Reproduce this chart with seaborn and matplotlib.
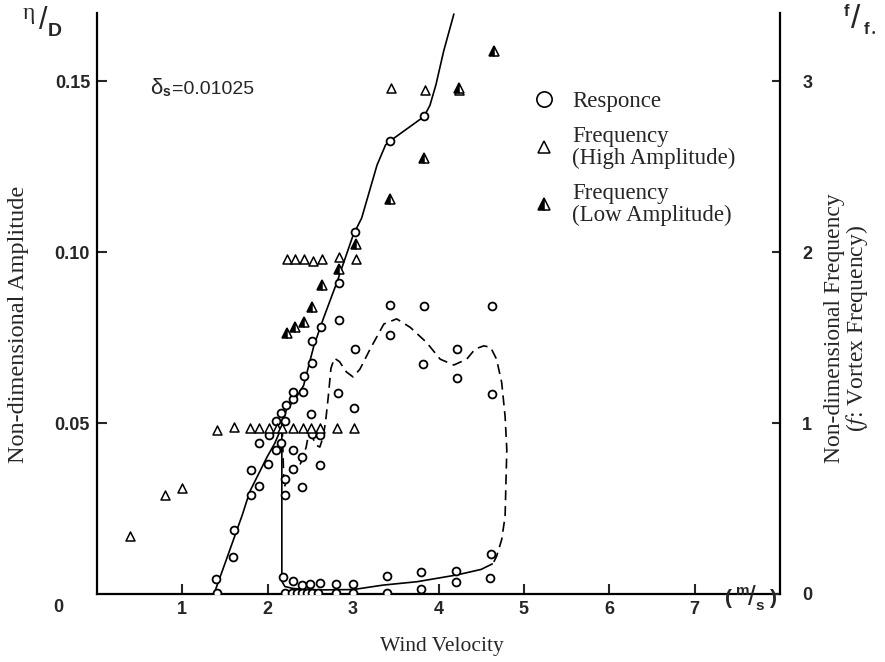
import matplotlib
matplotlib.use("Agg")
import matplotlib.pyplot as plt
import seaborn as sns
import pandas as pd
from matplotlib.lines import Line2D

# ---------------- data ----------------
# Response amplitude (eta/D) vs wind velocity (m/s)
resp_v = [1.40, 1.39, 1.59, 1.60, 1.80, 1.80, 1.90, 1.90, 2.00, 2.01,
          2.10, 2.10, 2.15, 2.15, 2.20, 2.20, 2.20, 2.21, 2.30, 2.30,
          2.30, 2.30, 2.40, 2.40, 2.41, 2.42, 2.51, 2.52, 2.52, 2.52,
          2.61, 2.61, 2.62, 2.82, 2.83, 2.83, 3.01, 3.02, 3.02, 3.43,
          3.43, 3.43, 3.83, 3.83, 3.82, 4.22, 4.22, 4.63, 4.63,
          2.18, 2.29, 2.40, 2.50, 2.61, 2.80, 3.00, 3.40, 3.40, 3.79,
          3.79, 4.20, 4.20, 4.61, 4.60,
          2.20, 2.28, 2.34, 2.40, 2.46, 2.52, 2.59, 2.80, 3.00]
resp_a = [0.0004, 0.0044, 0.0108, 0.0188, 0.0291, 0.0362, 0.0315, 0.0443, 0.0379, 0.0465,
          0.0420, 0.0506, 0.0443, 0.0531, 0.0291, 0.0337, 0.0506, 0.0552, 0.0366, 0.0421,
          0.0570, 0.0591, 0.0313, 0.0400, 0.0591, 0.0637, 0.0528, 0.0467, 0.0676, 0.0740,
          0.0376, 0.0464, 0.0782, 0.0587, 0.0803, 0.0910, 0.0545, 0.0717, 0.1059, 0.0758,
          0.0847, 0.1325, 0.0844, 0.1399, 0.0673, 0.0631, 0.0717, 0.0584, 0.0844,
          0.0051, 0.0039, 0.0026, 0.0029, 0.0033, 0.0028, 0.0028, 0.0053, 0.0003, 0.0064,
          0.0014, 0.0066, 0.0034, 0.0117, 0.0046,
          0.0003, 0.0003, 0.0003, 0.0003, 0.0003, 0.0003, 0.0003, 0.0003, 0.0003]

# Frequency f/f0 (high amplitude) - open triangles
fh_v = [0.39, 0.80, 0.99, 1.40, 1.60, 1.79, 1.90, 2.01, 2.11, 2.17, 2.30, 2.41,
        2.51, 2.61, 2.81, 3.01, 2.22, 2.32, 2.43, 2.53, 2.63, 2.83, 3.03,
        3.44, 3.84, 4.24]
fh_f = [0.34, 0.58, 0.62, 0.96, 0.98, 0.97, 0.97, 0.97, 0.97, 0.97, 0.97, 0.97,
        0.97, 0.97, 0.97, 0.97, 1.96, 1.96, 1.96, 1.95, 1.96, 1.97, 1.96,
        2.96, 2.95, 2.95]

# Frequency f/f0 (low amplitude) - half-filled triangles
fl_v = [2.22, 2.32, 2.42, 2.52, 2.63, 2.83, 3.03, 3.43, 3.83, 4.24, 4.65]
fl_f = [1.525, 1.56, 1.59, 1.68, 1.81, 1.90, 2.05, 2.31, 2.55, 2.96, 3.18]

# Fitted curves (eta/D)
upper_v = [1.37, 1.50, 1.60, 1.70, 1.79, 1.90, 1.99, 2.08, 2.15, 2.22, 2.32, 2.42,
           2.54, 2.65, 2.81, 3.00, 3.10, 3.28, 3.38, 3.43, 3.83, 3.90, 3.97, 4.06, 4.18]
upper_a = [0.0, 0.009, 0.016, 0.023, 0.030, 0.0355, 0.040, 0.044, 0.048, 0.054, 0.057,
           0.061, 0.0726, 0.0805, 0.0912, 0.105, 0.110, 0.1255, 0.1314, 0.1325, 0.1397,
           0.143, 0.149, 0.1588, 0.1697]

lower_v = [2.165, 2.165, 2.17, 2.20, 2.30, 2.60, 3.00, 3.35, 3.75, 4.22, 4.50, 4.63]
lower_a = [0.050, 0.006, 0.0035, 0.0022, 0.0016, 0.0012, 0.0013, 0.0026, 0.0036,
           0.0056, 0.0072, 0.0088]

dash_v = [2.17, 2.18, 2.19, 2.22, 2.27, 2.31, 2.36, 2.40, 2.45, 2.48, 2.52, 2.57,
          2.61, 2.65, 2.68, 2.71, 2.74, 2.78, 2.84, 2.92, 3.00, 3.08, 3.20, 3.36,
          3.51, 3.67, 3.86, 4.02, 4.18, 4.33, 4.43, 4.53, 4.61, 4.68, 4.74, 4.78,
          4.80, 4.78, 4.74, 4.68, 4.63]
dash_a = [0.049, 0.040, 0.031, 0.033, 0.037, 0.0365, 0.037, 0.039, 0.043, 0.047,
          0.046, 0.0435, 0.043, 0.046, 0.051, 0.058, 0.066, 0.069, 0.068, 0.065,
          0.0635, 0.0658, 0.0717, 0.079, 0.0805, 0.078, 0.0736, 0.0687, 0.067,
          0.0687, 0.0717, 0.0726, 0.0722, 0.0687, 0.0619, 0.052, 0.0423, 0.0227,
          0.0159, 0.011, 0.0085]

x_ticks = [1, 2, 3, 4, 5, 6, 7]
yl_ticks = [0.05, 0.10, 0.15]
yl_labels = ["0.05", "0.10", "0.15"]
yr_ticks = [0, 1, 2, 3]
legend_labels = ["Responce", "Frequency\n(High Amplitude)", "Frequency\n(Low Amplitude)"]

# ---------------- style ----------------
sns.set_theme(style="white")
plt.rcParams['font.family'] = ['Liberation Sans', 'DejaVu Sans']
plt.rcParams['mathtext.fontset'] = 'stix'
SERIF = ['Liberation Serif', 'DejaVu Serif']

fig = plt.figure(figsize=(8.85, 6.62), dpi=100)
ax = fig.add_axes([97/885, 1 - 594/662, (780-97)/885, (594-13)/662])
ax2 = ax.twinx()

lw_axis = 1.6
for a in (ax, ax2):
    a.set_facecolor('none')
    a.spines['top'].set_visible(False)
    for s in ('left', 'right', 'bottom'):
        a.spines[s].set_linewidth(lw_axis)
        a.spines[s].set_color('black')
ax.spines['right'].set_visible(False)
ax2.spines['left'].set_visible(False)
ax2.spines['bottom'].set_visible(False)

ax.set_xlim(0, 8)
ax.set_ylim(0, 0.17)
ax2.set_ylim(0, 0.17 * 20)

# curves
sns.lineplot(x=upper_v, y=upper_a, sort=False, estimator=None, ax=ax,
             color='black', lw=1.2)
sns.lineplot(x=lower_v, y=lower_a, sort=False, estimator=None, ax=ax,
             color='black', lw=1.2)
sns.lineplot(x=dash_v, y=dash_a, sort=False, estimator=None, ax=ax,
             color='black', lw=1.2, linestyle=(0, (6, 3.5)))

# response points
df_r = pd.DataFrame({'v': resp_v, 'a': resp_a})
sns.scatterplot(data=df_r, x='v', y='a', ax=ax, marker='o', s=32,
                facecolor='white', edgecolor='black', linewidth=1.3, zorder=5)

# frequency points (right axis)
df_h = pd.DataFrame({'v': fh_v, 'f': fh_f})
sns.scatterplot(data=df_h, x='v', y='f', ax=ax2, marker='^', s=42,
                facecolor='white', edgecolor='black', linewidth=1.1, zorder=5)
ax2.plot(fl_v, fl_f, linestyle='none', marker='^', markersize=7,
         markerfacecolor='black', markerfacecoloralt='white', fillstyle='left',
         markeredgecolor='black', markeredgewidth=1.1, zorder=6)

ax.set_xlabel('')
ax.set_ylabel('')
ax2.set_ylabel('')

# ticks
ax.set_xticks(x_ticks)
ax.set_xticklabels([str(t) for t in x_ticks])
ax.set_yticks(yl_ticks)
ax.set_yticklabels(yl_labels)
ax2.set_yticks(yr_ticks)
ax2.set_yticklabels([str(t) for t in yr_ticks])
ax.tick_params(axis='x', direction='in', length=7, width=1.5, pad=5, labelsize=13, bottom=True)
ax.tick_params(axis='y', direction='in', length=7, width=1.5, pad=5, labelsize=13, left=True)
ax2.tick_params(axis='y', direction='in', length=6, width=1.5, pad=16, labelsize=13, right=True)
for lab in ax.get_xticklabels() + ax.get_yticklabels() + ax2.get_yticklabels():
    lab.set_fontweight('bold')


def ftext(px, py, s, **kw):
    fig.text(px / 885, 1 - py / 662, s, ha='center', va='center', **kw)


# corner "0"
ftext(58, 608, '0', fontsize=13, fontweight='bold')
# units (m/s)
ftext(729, 599, '(', fontsize=15, fontweight='bold')
ftext(743, 591, 'm', fontsize=11, fontweight='bold')
ftext(752, 598, '/', fontsize=20)
ftext(760, 606, 's', fontsize=11, fontweight='bold')
ftext(773, 599, ')', fontsize=15, fontweight='bold')
# eta / D
ftext(29, 13, 'η', fontsize=17, family=SERIF)
ftext(43, 21, '/', fontsize=22)
ftext(55, 31, 'D', fontsize=14, fontweight='bold')
# f / f0
ftext(847, 11, 'f', fontsize=12, fontweight='bold')
ftext(856, 20, '/', fontsize=24)
ftext(866, 29, 'f', fontsize=12, fontweight='bold')
ftext(873, 33, '•', fontsize=7)
# damping
ftext(156, 88, 'δ', fontsize=16)
ftext(166, 92, 's', fontsize=10, fontweight='bold')
fig.text(172 / 885, 1 - 89 / 662, '=0.01025', ha='left', va='center', fontsize=14)

# axis titles
ftext(19, 324, 'Non-dimensional Amplitude', rotation=90, family=SERIF, fontsize=17.5)
ftext(442, 646, 'Wind Velocity', family=SERIF, fontsize=15.5)
ftext(847, 328, 'Non-dimensional Frequency\n($\\it{f}$: Vortex Frequency)',
      rotation=90, family=SERIF, fontsize=17, linespacing=0.95)

# legend
handles = [
    Line2D([], [], linestyle='none', marker='o', markersize=11, markerfacecolor='white',
           markeredgecolor='black', markeredgewidth=1.2),
    Line2D([], [], linestyle='none', marker='^', markersize=9, markerfacecolor='white',
           markeredgecolor='black', markeredgewidth=1.1),
    Line2D([], [], linestyle='none', marker='^', markersize=9, markerfacecolor='black',
           markerfacecoloralt='white', fillstyle='left', markeredgecolor='black',
           markeredgewidth=1.1),
]
leg = fig.legend(handles, legend_labels, loc='upper left',
                 bbox_to_anchor=(530/885, 1 - 91/662),
                 frameon=False, handletextpad=0.65, handlelength=1.2, labelspacing=0.6,
                 borderaxespad=0, borderpad=0, prop={'family': SERIF, 'size': 16.5})
for t in leg.get_texts():
    t.set_linespacing(1.05)

fig.savefig('out.png', dpi=100)
